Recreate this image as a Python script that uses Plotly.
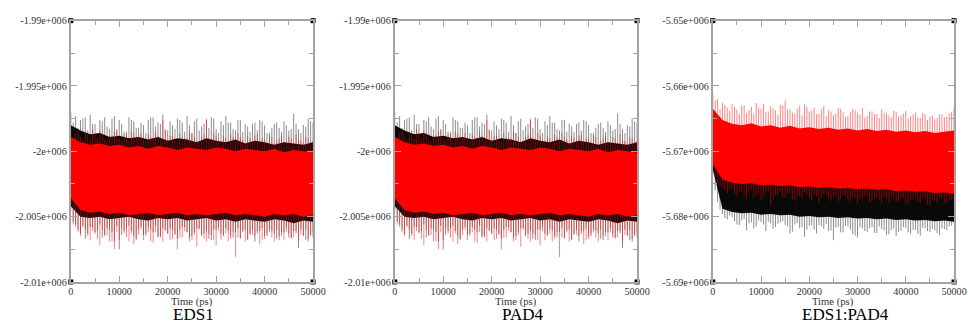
import plotly.graph_objects as go

# ---------------- data (energies in units of 1e3) ----------------
time_spikes = [i * 1000 for i in range(51)]            # ps
time_spikes2 = [500 + i * 1000 for i in range(50)]     # ps
time_band = [i * 2000 for i in range(26)]              # ps

# EDS1 panel
eds1_black_hi = [-1997.0, -1997.3, -1997.6, -1997.4, -1997.2, -1997.9, -1997.6, -1997.4, -1998.3, -1997.3,
                 -1997.6, -1998.5, -1997.4, -1997.7, -1998.2, -1998.0, -1997.6, -1997.4, -1997.8, -1997.2,
                 -1998.4, -1998.0, -1997.5, -1997.8, -1997.3, -1998.6, -1997.5, -1998.1, -1997.6, -1997.4,
                 -1998.3, -1997.7, -1997.3, -1997.8, -1998.4, -1997.6, -1997.9, -1998.5, -1997.8, -1997.6,
                 -1998.0, -1998.6, -1997.9, -1998.2, -1997.7, -1998.4, -1997.1, -1998.3, -1998.0, -1997.5,
                 -1997.8]
eds1_black_lo = [-2004.6, -2005.6, -2006.3, -2006.7, -2005.8, -2006.2, -2005.6, -2006.4, -2006.0, -2006.9,
                 -2007.5, -2006.1, -2005.7, -2006.5, -2006.0, -2006.4, -2005.8, -2006.2, -2006.6, -2005.9,
                 -2006.3, -2006.0, -2006.7, -2005.8, -2006.2, -2006.5, -2005.9, -2006.4, -2006.1, -2006.8,
                 -2006.0, -2006.3, -2005.9, -2006.5, -2006.2, -2006.7, -2006.0, -2006.4, -2006.9, -2006.1,
                 -2006.5, -2006.0, -2006.3, -2006.8, -2006.2, -2006.6, -2006.1, -2007.4, -2006.5, -2006.9,
                 -2006.6]
eds1_black_hi2 = [-1997.8, -1998.2, -1997.5, -1998.4, -1997.9, -1998.6, -1997.7, -1998.1, -1997.5, -1998.3,
                  -1997.9, -1998.5, -1997.6, -1998.2, -1997.8, -1998.6, -1997.4, -1998.1, -1997.9, -1998.4,
                  -1997.7, -1998.3, -1997.6, -1998.5, -1998.0, -1997.7, -1998.4, -1997.9, -1998.2, -1997.5,
                  -1998.6, -1998.0, -1997.8, -1998.3, -1997.6, -1998.5, -1998.1, -1997.9, -1998.4, -1997.7,
                  -1998.6, -1998.2, -1997.8, -1998.5, -1998.0, -1998.3, -1997.9, -1998.6, -1998.1, -1997.7]
eds1_black_lo2 = [-2005.4, -2006.0, -2005.7, -2006.3, -2005.8, -2006.1, -2006.6, -2005.9, -2006.2, -2005.7,
                  -2006.4, -2005.9, -2006.1, -2006.7, -2005.8, -2006.3, -2006.0, -2005.7, -2006.5, -2006.1,
                  -2005.9, -2006.4, -2006.0, -2005.8, -2006.6, -2006.2, -2005.9, -2006.3, -2006.7, -2006.0,
                  -2005.8, -2006.4, -2006.1, -2006.6, -2005.9, -2006.2, -2006.8, -2006.0, -2006.3, -2005.9,
                  -2006.5, -2006.1, -2006.7, -2006.2, -2005.9, -2006.6, -2006.3, -2006.0, -2006.8, -2006.4]
eds1_black_top = [-1998.0, -1998.4, -1998.7, -1998.6, -1998.9, -1998.8, -1999.0, -1998.9, -1999.1, -1998.9,
                  -1999.2, -1999.0, -1999.1, -1999.3, -1999.0, -1999.2, -1999.3, -1999.1, -1999.4, -1999.2,
                  -1999.3, -1999.5, -1999.3, -1999.4, -1999.5, -1999.3]
eds1_black_bot = [-2004.2, -2005.0, -2005.1, -2005.0, -2005.2, -2005.1, -2005.0, -2005.2, -2005.3, -2005.1,
                  -2005.2, -2005.1, -2005.3, -2005.2, -2005.1, -2005.3, -2005.2, -2005.4, -2005.2, -2005.3,
                  -2005.4, -2005.2, -2005.3, -2005.5, -2005.3, -2005.4]
eds1_red_hi = [-1998.2, -1998.6, -1998.9, -1998.5, -1999.0, -1998.7, -1998.4, -1999.1, -1998.8, -1998.5,
               -1999.0, -1998.7, -1999.2, -1998.6, -1998.9, -1999.1, -1998.7, -1999.0, -1998.8, -1997.6,
               -1999.1, -1998.8, -1999.3, -1998.9, -1999.0, -1998.6, -1999.2, -1998.9, -1997.5, -1999.1,
               -1998.8, -1999.3, -1999.0, -1998.7, -1999.2, -1998.9, -1999.4, -1999.0, -1998.8, -1999.3,
               -1999.1, -1998.8, -1999.4, -1999.0, -1999.3, -1998.9, -1999.5, -1999.1, -1999.4, -1999.0,
               -1999.2]
eds1_red_lo = [-2004.0, -2005.8, -2006.5, -2006.0, -2006.8, -2006.3, -2007.2, -2006.5, -2006.9, -2007.5,
               -2006.8, -2006.3, -2006.9, -2007.1, -2006.4, -2006.8, -2006.2, -2007.0, -2006.5, -2006.9,
               -2006.3, -2006.7, -2007.5, -2006.6, -2006.2, -2006.8, -2007.3, -2006.5, -2006.9, -2006.4,
               -2007.2, -2006.8, -2006.3, -2006.7, -2008.1, -2006.6, -2006.9, -2006.3, -2006.5, -2007.1,
               -2006.7, -2006.2, -2006.9, -2006.5, -2006.8, -2006.3, -2006.6, -2006.9, -2006.4, -2006.7,
               -2006.2]
eds1_red_hi2 = [-1998.9, -1998.4, -1999.1, -1998.7, -1998.3, -1999.0, -1998.6, -1999.2, -1998.8, -1998.4,
                -1999.1, -1998.7, -1998.5, -1999.0, -1998.6, -1999.2, -1998.9, -1998.5, -1999.1, -1998.3,
                -1998.8, -1999.2, -1998.6, -1999.0, -1998.5, -1998.9, -1999.3, -1998.7, -1999.0, -1998.6,
                -1999.2, -1998.8, -1999.4, -1998.9, -1998.6, -1999.1, -1998.8, -1999.3, -1998.7, -1999.0,
                -1999.4, -1998.9, -1999.2, -1998.8, -1999.3, -1999.0, -1998.7, -1999.2, -1998.9, -1999.3]
eds1_red_lo2 = [-2005.6, -2006.2, -2005.8, -2006.5, -2006.1, -2006.7, -2006.0, -2006.4, -2006.9, -2006.2,
                -2005.9, -2006.6, -2006.3, -2006.8, -2006.0, -2006.5, -2006.9, -2006.2, -2006.6, -2006.0,
                -2006.8, -2006.3, -2006.6, -2006.1, -2006.9, -2006.4, -2006.0, -2006.7, -2006.3, -2006.8,
                -2006.1, -2006.5, -2006.9, -2006.2, -2006.6, -2006.0, -2006.7, -2006.4, -2006.1, -2006.8,
                -2006.3, -2006.6, -2006.0, -2006.5, -2006.2, -2006.7, -2006.1, -2006.4, -2006.0, -2006.5]
eds1_red_top = [-1998.9, -1999.3, -1999.5, -1999.4, -1999.6, -1999.5, -1999.7, -1999.6, -1999.8, -1999.6,
                -1999.7, -1999.9, -1999.7, -1999.8, -1999.9, -1999.7, -1999.8, -2000.0, -1999.8, -1999.9,
                -2000.0, -1999.8, -2000.1, -1999.9, -2000.0, -2000.1]
eds1_red_bot = [-2003.6, -2004.5, -2004.7, -2004.6, -2004.8, -2004.7, -2004.9, -2004.8, -2004.7, -2004.9,
                -2004.8, -2004.7, -2004.9, -2004.8, -2004.9, -2004.8, -2004.7, -2004.9, -2004.8, -2004.9,
                -2005.0, -2004.8, -2004.9, -2004.8, -2005.0, -2004.9]

# PAD4 panel: the picture shows the same traces as the EDS1 panel
pad4_black = [list(a) for a in (eds1_black_hi, eds1_black_lo, eds1_black_hi2, eds1_black_lo2,
                                eds1_black_top, eds1_black_bot)]
pad4_red = [list(a) for a in (eds1_red_hi, eds1_red_lo, eds1_red_hi2, eds1_red_lo2,
                              eds1_red_top, eds1_red_bot)]

# EDS1:PAD4 panel
cplx_black_hi = [-5668.8, -5670.2, -5670.8, -5671.0, -5670.6, -5671.3, -5670.9, -5671.5, -5671.0, -5671.6,
                 -5671.2, -5671.7, -5671.3, -5671.9, -5671.4, -5671.8, -5671.5, -5672.0, -5671.6, -5672.2,
                 -5671.7, -5672.1, -5671.8, -5672.3, -5671.9, -5672.5, -5672.0, -5672.4, -5672.1, -5672.6,
                 -5672.2, -5672.8, -5672.3, -5672.7, -5672.4, -5672.9, -5672.5, -5673.0, -5672.6, -5673.2,
                 -5672.7, -5673.1, -5672.8, -5673.3, -5672.9, -5673.5, -5673.0, -5673.4, -5673.1, -5673.6,
                 -5673.2]
cplx_black_lo = [-5673.5, -5677.8, -5679.6, -5680.4, -5680.1, -5681.2, -5680.6, -5682.1, -5680.9, -5681.5,
                 -5680.8, -5682.2, -5681.0, -5681.6, -5680.9, -5681.3, -5682.6, -5681.2, -5681.8, -5683.1,
                 -5681.4, -5682.0, -5681.3, -5681.9, -5682.2, -5683.6, -5681.6, -5682.4, -5681.5, -5682.7,
                 -5683.2, -5681.8, -5682.3, -5681.6, -5682.5, -5681.9, -5682.8, -5682.1, -5683.0, -5682.2,
                 -5681.7, -5682.6, -5682.0, -5682.9, -5681.8, -5682.4, -5682.1, -5682.8, -5681.9, -5681.5,
                 -5681.0]
cplx_black_hi2 = [-5669.6, -5670.9, -5671.2, -5670.8, -5671.4, -5671.1, -5671.6, -5671.2, -5671.8, -5671.4,
                  -5671.9, -5671.5, -5672.0, -5671.7, -5672.2, -5671.8, -5672.3, -5671.9, -5672.4, -5672.0,
                  -5672.5, -5672.1, -5672.6, -5672.2, -5672.7, -5672.3, -5672.8, -5672.4, -5672.9, -5672.5,
                  -5673.0, -5672.6, -5673.1, -5672.7, -5673.2, -5672.8, -5673.3, -5672.9, -5673.4, -5673.0,
                  -5673.5, -5673.1, -5673.6, -5673.2, -5673.7, -5673.3, -5673.8, -5673.4, -5673.9, -5673.5]
cplx_black_lo2 = [-5676.0, -5678.9, -5680.2, -5679.8, -5680.7, -5681.3, -5680.4, -5681.0, -5681.8, -5680.6,
                  -5681.2, -5680.8, -5681.9, -5681.1, -5680.7, -5681.5, -5682.3, -5681.0, -5681.6, -5682.0,
                  -5681.3, -5682.6, -5681.5, -5681.1, -5682.1, -5681.7, -5682.4, -5681.4, -5682.0, -5682.9,
                  -5681.6, -5682.2, -5681.8, -5682.5, -5681.5, -5682.1, -5682.7, -5681.8, -5682.3, -5681.6,
                  -5682.4, -5682.0, -5682.6, -5681.7, -5682.2, -5681.9, -5682.5, -5681.8, -5682.1, -5681.4]
cplx_black_top = [-5669.5, -5671.5, -5672.0, -5672.3, -5672.2, -5672.6, -5672.4, -5672.8, -5672.6, -5673.0,
                  -5672.8, -5673.1, -5672.9, -5673.2, -5673.0, -5673.3, -5673.1, -5673.4, -5673.2, -5673.5,
                  -5673.3, -5673.6, -5673.4, -5673.7, -5673.5, -5673.6]
cplx_black_bot = [-5672.8, -5678.8, -5679.3, -5679.5, -5679.4, -5679.7, -5679.6, -5679.8, -5679.7, -5680.0,
                  -5679.9, -5680.1, -5680.0, -5680.2, -5680.1, -5680.3, -5680.2, -5680.4, -5680.3, -5680.5,
                  -5680.4, -5680.6, -5680.5, -5680.7, -5680.6, -5680.8]
cplx_red_hi = [-5661.1, -5662.0, -5662.6, -5663.3, -5662.8, -5663.6, -5663.0, -5664.1, -5663.2, -5662.6,
               -5663.5, -5664.0, -5663.1, -5663.7, -5662.9, -5662.2, -5663.6, -5664.2, -5663.0, -5662.8,
               -5663.9, -5663.3, -5664.3, -5663.1, -5663.7, -5664.4, -5663.4, -5664.0, -5664.6, -5663.5,
               -5664.1, -5663.4, -5664.6, -5663.9, -5664.3, -5663.6, -5664.2, -5664.8, -5663.9, -5664.5,
               -5663.8, -5664.6, -5664.1, -5664.9, -5664.3, -5664.7, -5665.1, -5664.4, -5664.8, -5664.2,
               -5663.4]
cplx_red_lo = [-5672.5, -5674.8, -5675.6, -5676.4, -5675.8, -5676.9, -5676.2, -5677.3, -5676.0, -5676.7,
               -5677.5, -5676.4, -5678.3, -5676.8, -5676.2, -5677.1, -5676.5, -5677.6, -5676.9, -5676.3,
               -5677.2, -5676.7, -5677.8, -5676.6, -5677.3, -5676.9, -5677.7, -5676.8, -5677.4, -5676.9,
               -5678.0, -5677.2, -5676.8, -5677.6, -5677.1, -5677.9, -5677.3, -5676.9, -5677.8, -5677.2,
               -5678.1, -5677.5, -5677.0, -5677.9, -5677.4, -5678.2, -5677.6, -5677.1, -5678.0, -5677.5,
               -5677.3]
cplx_red_hi2 = [-5662.2, -5663.5, -5662.9, -5663.8, -5663.2, -5664.3, -5663.0, -5663.7, -5664.2, -5663.3,
                -5662.7, -5663.9, -5663.4, -5664.4, -5663.0, -5663.6, -5664.1, -5663.5, -5664.5, -5663.2,
                -5663.8, -5664.3, -5663.6, -5664.6, -5663.9, -5664.2, -5663.5, -5664.7, -5664.0, -5663.7,
                -5664.4, -5664.8, -5663.9, -5664.3, -5664.9, -5664.1, -5664.5, -5663.8, -5664.7, -5664.2,
                -5665.0, -5664.4, -5664.8, -5664.1, -5665.2, -5664.5, -5664.9, -5664.3, -5664.7, -5664.0]
cplx_red_lo2 = [-5673.8, -5675.4, -5676.0, -5675.7, -5676.5, -5676.1, -5676.8, -5676.3, -5677.0, -5676.4,
                -5676.9, -5676.2, -5677.3, -5676.6, -5677.0, -5676.5, -5677.4, -5676.8, -5677.1, -5676.6,
                -5677.5, -5676.9, -5677.2, -5676.7, -5677.6, -5677.0, -5677.3, -5676.8, -5677.7, -5677.1,
                -5677.4, -5676.9, -5677.8, -5677.2, -5677.5, -5677.0, -5677.9, -5677.3, -5677.6, -5677.1,
                -5678.0, -5677.4, -5677.7, -5677.2, -5678.1, -5677.5, -5677.8, -5677.3, -5677.9, -5677.4]
cplx_red_top = [-5663.5, -5665.2, -5665.8, -5666.0, -5665.7, -5666.2, -5666.0, -5666.4, -5666.1, -5666.5,
                -5666.3, -5666.6, -5666.4, -5666.7, -5666.5, -5666.8, -5666.6, -5666.9, -5666.7, -5667.0,
                -5666.8, -5667.1, -5666.9, -5667.2, -5667.0, -5666.8]
cplx_red_bot = [-5672.0, -5674.3, -5674.8, -5675.0, -5674.9, -5675.2, -5675.1, -5675.3, -5675.2, -5675.5,
                -5675.4, -5675.6, -5675.5, -5675.7, -5675.6, -5675.8, -5675.7, -5675.9, -5675.8, -5676.1,
                -5676.0, -5676.2, -5676.1, -5676.4, -5676.3, -5676.5]

# axes
x_ticks = [0, 10000, 20000, 30000, 40000, 50000]
x_tick_labels = ["0", "10000", "20000", "30000", "40000", "50000"]
x_minor = [5000, 15000, 25000, 35000, 45000]
x_range = [0, 50000]

y1_ticks = [-2010000, -2005000, -2000000, -1995000, -1990000]
y1_tick_labels = ["-2.01e+006", "-2.005e+006", "-2e+006", "-1.995e+006", "-1.99e+006"]
y1_minor = [-2007500, -2002500, -1997500, -1992500]
y1_range = [-2010000, -1990000]

y3_ticks = [-5690000, -5680000, -5670000, -5660000, -5650000]
y3_tick_labels = ["-5.69e+006", "-5.68e+006", "-5.67e+006", "-5.66e+006", "-5.65e+006"]
y3_minor = [-5685000, -5675000, -5665000, -5655000]
y3_range = [-5690000, -5650000]

panel_names = ["EDS1", "PAD4", "EDS1:PAD4"]
x_title = "Time (ps)"

SCALE = 1000.0

panels = [
    dict(black=(eds1_black_hi, eds1_black_lo, eds1_black_hi2, eds1_black_lo2, eds1_black_top, eds1_black_bot),
         red=(eds1_red_hi, eds1_red_lo, eds1_red_hi2, eds1_red_lo2, eds1_red_top, eds1_red_bot),
         yt=y1_ticks, yl=y1_tick_labels, ym=y1_minor, yr=y1_range),
    dict(black=tuple(pad4_black), red=tuple(pad4_red),
         yt=y1_ticks, yl=y1_tick_labels, ym=y1_minor, yr=y1_range),
    dict(black=(cplx_black_hi, cplx_black_lo, cplx_black_hi2, cplx_black_lo2, cplx_black_top, cplx_black_bot),
         red=(cplx_red_hi, cplx_red_lo, cplx_red_hi2, cplx_red_lo2, cplx_red_top, cplx_red_bot),
         yt=y3_ticks, yl=y3_tick_labels, ym=y3_minor, yr=y3_range),
]

# ---------------- figure ----------------
# layout is designed in the 968x328 picture frame; the page renders slightly
# larger (K) because the photographed page comes out scaled down by ~0.987
W, H = 968, 328
K = 1.0134
FW, FH = round(W * K), round(H * K)
x_domains = [[68 / W, 311 / W], [393 / W, 636 / W], [712 / W, 954 / W]]
y_domain = [1 - 283 / H, 1 - 16 / H]
name_x = [191 / W, 521 / W, 845 / W]

FONT = "Liberation Serif"
AXCOL = "#a3a3a3"

fig = go.Figure()


def add_series(hi, lo, hi2, lo2, top, bot, line_col, band_col, xa, ya):
    px = list(time_band) + list(reversed(time_band))
    py = [v * SCALE for v in top] + [v * SCALE for v in reversed(bot)]
    fig.add_trace(go.Scatter(x=px, y=py, mode="lines", fill="toself", xaxis=xa, yaxis=ya,
                             fillcolor=band_col, line=dict(width=0, color=band_col),
                             hoverinfo="skip", showlegend=False))
    sx, sy = [], []
    for ts, hs, ls in ((time_spikes, hi, lo), (time_spikes2, hi2, lo2)):
        for t, h, l in zip(ts, hs, ls):
            sx += [t, t, None]
            sy += [l * SCALE, h * SCALE, None]
    fig.add_trace(go.Scatter(x=sx, y=sy, mode="lines", xaxis=xa, yaxis=ya,
                             line=dict(color=line_col, width=0.9),
                             hoverinfo="skip", showlegend=False))


for i, p in enumerate(panels):
    xa = "x" if i == 0 else f"x{i + 1}"
    ya = "y" if i == 0 else f"y{i + 1}"
    add_series(*p["black"], "rgba(0,0,0,0.5)", "rgba(12,12,12,1)", xa, ya)
    add_series(*p["red"], "rgba(255,0,0,0.55)", "rgba(255,0,0,1)", xa, ya)
    # corner squares of the frame
    fig.add_trace(go.Scatter(x=[x_range[0], x_range[1], x_range[0], x_range[1]],
                             y=[p["yr"][0], p["yr"][0], p["yr"][1], p["yr"][1]],
                             mode="markers", xaxis=xa, yaxis=ya, cliponaxis=False,
                             marker=dict(symbol="square", size=5, color="black"),
                             hoverinfo="skip", showlegend=False))

    axkey = "" if i == 0 else str(i + 1)
    fig.layout["xaxis" + axkey] = dict(
        domain=x_domains[i], range=x_range, anchor=ya,
        tickmode="array", tickvals=x_ticks, ticktext=x_tick_labels,
        ticks="inside", ticklen=6, tickwidth=1, tickcolor=AXCOL, ticklabelstandoff=-1,
        minor=dict(tickmode="array", tickvals=x_minor, ticks="inside", ticklen=4,
                   tickcolor=AXCOL, tickwidth=1, showgrid=False),
        showline=True, linecolor=AXCOL, linewidth=2, mirror="ticks",
        showgrid=False, zeroline=False,
        tickfont=dict(family=FONT, size=10 * K, color="#333333"),
    )
    fig.layout["yaxis" + axkey] = dict(
        domain=y_domain, range=p["yr"], anchor=xa,
        tickmode="array", tickvals=p["yt"], ticktext=p["yl"],
        ticks="inside", ticklen=6, tickwidth=1, tickcolor=AXCOL,
        minor=dict(tickmode="array", tickvals=p["ym"], ticks="inside", ticklen=4,
                   tickcolor=AXCOL, tickwidth=1, showgrid=False),
        showline=True, linecolor=AXCOL, linewidth=2, mirror="ticks",
        showgrid=False, zeroline=False,
        tickfont=dict(family=FONT, size=10 * K, color="#333333"),
    )
    cx = (x_domains[i][0] + x_domains[i][1]) / 2
    fig.add_annotation(text=x_title, x=cx, y=1 - 302.5 / H, xref="paper", yref="paper",
                       showarrow=False, xanchor="center", yanchor="middle", height=11,
                       font=dict(family=FONT, size=10.5 * K, color="#333333"))
    fig.add_annotation(text=panel_names[i], x=name_x[i], y=0,
                       xref="paper", yref="paper", showarrow=False, height=17,
                       xanchor="center", yanchor="bottom", valign="bottom",
                       font=dict(family=FONT, size=16.8 * K, color="black"))

fig.update_layout(width=FW, height=FH, margin=dict(l=0, r=0, t=0, b=0),
                  paper_bgcolor="white", plot_bgcolor="white", showlegend=False)

fig.write_html("out.html", config={"staticPlot": True, "displayModeBar": False},
               post_script="document.body.style.margin='0px';")
